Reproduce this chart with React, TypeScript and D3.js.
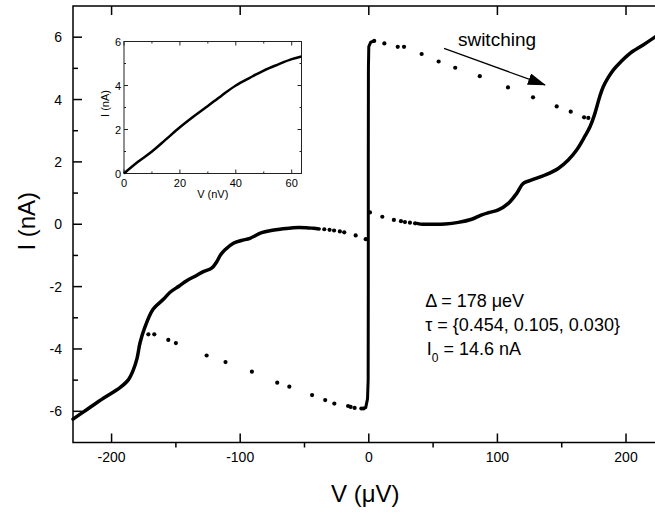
import React, { useMemo } from "react";
import * as d3 from "d3";

// resistive branch, negative bias (dense trace)
const leftV = [-230, -219.4, -206.4, -193.5, -187, -183.1, -180.2, -177.9, -174.1, -167.6, -159.5, -154.5, -147.4, -141.6, -134.3, -128.7, -122.2, -118.2, -115.2, -111.8, -105.3, -99.1, -92.4, -83.3, -75.9, -69, -58.8, -48.7, -43.1, -38.6];
const leftI = [-6.25, -5.95, -5.58, -5.24, -4.99, -4.67, -4.3, -3.81, -3.3, -2.72, -2.4, -2.18, -1.98, -1.81, -1.65, -1.52, -1.41, -1.2, -0.98, -0.82, -0.61, -0.52, -0.45, -0.27, -0.2, -0.16, -0.11, -0.11, -0.13, -0.15];
// sparse points near zero bias
const leftTailV = [-34.6, -30.5, -27, -22.5, -19.1, -10.2, -2.4];
const leftTailI = [-0.16, -0.18, -0.2, -0.23, -0.26, -0.36, -0.48];
const rightHeadV = [0.9, 10.5, 19.5, 25, 28.1, 32, 36];
const rightHeadI = [0.38, 0.24, 0.14, 0.1, 0.07, 0.05, 0.03];

// resistive branch, positive bias (dense trace)
const rightV = [38, 42, 48.9, 59.3, 69.6, 80, 87.8, 92.9, 100.7, 108.5, 115, 120.1, 126.7, 137.1, 147.3, 155.1, 161.6, 167, 172, 175, 177.3, 179.6, 182.3, 186.1, 190.2, 196.2, 203.1, 213.3, 223.4];
const rightI = [0.02, 0, 0, 0.01, 0.06, 0.16, 0.3, 0.37, 0.46, 0.67, 0.99, 1.31, 1.42, 1.58, 1.79, 2.06, 2.38, 2.75, 3.13, 3.45, 3.77, 4.1, 4.41, 4.7, 4.95, 5.22, 5.48, 5.75, 6.03];

// supercurrent branch
const superV = [-4.2, -2.4, -1, -0.5, -0.4, -0.4, -0.3, 0, 1.5, 3];
const superI = [-5.91, -5.88, -5.6, -5, -2, 2, 5, 5.7, 5.84, 5.86];

// switching points
const switchLowV = [-171.4, -166.8, -155.9, -150, -126.1, -111.4, -90.9, -71.2, -61.8, -44.1, -33.9, -26.8, -16.1, -14.1, -11, -5.8, -4.2];
const switchLowI = [-3.53, -3.53, -3.71, -3.81, -4.21, -4.42, -4.73, -5.08, -5.21, -5.48, -5.64, -5.75, -5.83, -5.86, -5.89, -5.91, -5.91];
const switchHighV = [4.2, 12.1, 22.5, 27.4, 41.1, 54.3, 67.2, 86.3, 108.2, 127.7, 146.1, 157, 167.4, 170.7];
const switchHighI = [5.88, 5.8, 5.69, 5.69, 5.46, 5.22, 5.02, 4.75, 4.39, 4.07, 3.78, 3.61, 3.43, 3.41];

// inset
const insetV = [0, 5, 10, 15, 20, 25, 30, 35, 40, 45, 50, 55, 60, 63.5];
const insetI = [0, 0.53, 1.0, 1.55, 2.1, 2.6, 3.07, 3.55, 4.0, 4.35, 4.68, 4.95, 5.2, 5.32];

const xMajor = [-200, -100, 0, 100, 200];
const xMinor = [-150, -50, 50, 150];
const yMajor = [-6, -4, -2, 0, 2, 4, 6];
const yMinor = [-5, -3, -1, 1, 3, 5];
const insetXMajor = [0, 20, 40, 60];
const insetXMinor = [10, 30, 50];
const insetYMajor = [0, 2, 4, 6];
const insetYMinor = [1, 3, 5];

const FONT = "'Liberation Sans', Arial, Helvetica, sans-serif";

const zip = (xs: number[], ys: number[]) => xs.map((v, i) => [v, ys[i]] as [number, number]);

const Inset = () => {
  const x = d3.scaleLinear().domain([0, 63.5]).range([124, 301.5]);
  const y = d3.scaleLinear().domain([0, 6]).range([173.5, 41.5]);
  const line = d3
    .line<[number, number]>()
    .x((d) => x(d[0]))
    .y((d) => y(d[1]))
    .curve(d3.curveCatmullRom);
  const [x0, x1] = x.range();
  const [y0, y1] = y.range();
  return (
    <g>
      <rect x={x0} y={y1} width={x1 - x0} height={y0 - y1} fill="white" stroke="#222" strokeWidth={1} />
      {insetXMajor.map((t) => (
        <g key={"ixM" + t}>
          <line x1={x(t)} x2={x(t)} y1={y0} y2={y0 - 4} stroke="#222" />
          <line x1={x(t)} x2={x(t)} y1={y1} y2={y1 + 4} stroke="#222" />
          <text x={x(t)} y={y0 + 13} textAnchor="middle" fontSize={11} fontFamily={FONT}>
            {t}
          </text>
        </g>
      ))}
      {insetXMinor.map((t) => (
        <g key={"ixm" + t}>
          <line x1={x(t)} x2={x(t)} y1={y0} y2={y0 - 2} stroke="#222" />
          <line x1={x(t)} x2={x(t)} y1={y1} y2={y1 + 2} stroke="#222" />
        </g>
      ))}
      {insetYMajor.map((t) => (
        <g key={"iyM" + t}>
          <line x1={x0} x2={x0 + 4} y1={y(t)} y2={y(t)} stroke="#222" />
          <line x1={x1} x2={x1 - 4} y1={y(t)} y2={y(t)} stroke="#222" />
          <text x={x0 - 3} y={y(t) + 4} textAnchor="end" fontSize={11} fontFamily={FONT}>
            {t}
          </text>
        </g>
      ))}
      {insetYMinor.map((t) => (
        <g key={"iym" + t}>
          <line x1={x0} x2={x0 + 2} y1={y(t)} y2={y(t)} stroke="#222" />
          <line x1={x1} x2={x1 - 2} y1={y(t)} y2={y(t)} stroke="#222" />
        </g>
      ))}
      <path d={line(zip(insetV, insetI)) || ""} fill="none" stroke="black" strokeWidth={2.5} />
      <text x={(x0 + x1) / 2} y={y0 + 24} textAnchor="middle" fontSize={11} fontFamily={FONT}>
        V (nV)
      </text>
      <text
        transform={`translate(${x0 - 15},${(y0 + y1) / 2 - 4}) rotate(-90)`}
        textAnchor="middle"
        fontSize={11}
        fontFamily={FONT}
      >
        I (nA)
      </text>
    </g>
  );
};

export default function App() {
  const width = 655;
  const height = 515;
  const x = useMemo(() => d3.scaleLinear().domain([-230, 230]).range([73, 664.6]), []);
  const y = useMemo(() => d3.scaleLinear().domain([-7, 7]).range([442.5, 6]), []);

  const line = d3
    .line<[number, number]>()
    .x((d) => x(d[0]))
    .y((d) => y(d[1]))
    .curve(d3.curveCatmullRom);

  const [xl, xr] = x.range();
  const [yb, yt] = y.range();

  const dots = [
    ...zip(leftTailV, leftTailI),
    ...zip(rightHeadV, rightHeadI),
    ...zip(switchLowV, switchLowI),
    ...zip(switchHighV, switchHighI),
  ];

  return (
    <svg width={width} height={height} style={{ position: "absolute", left: 0, top: 0, background: "white" }}>
      <rect x={0} y={0} width={width} height={height} fill="white" />

      {/* frame */}
      <rect x={xl} y={yt} width={xr - xl} height={yb - yt} fill="none" stroke="black" strokeWidth={1.5} />

      {/* x ticks */}
      {xMajor.map((t) => (
        <g key={"xM" + t}>
          <line x1={x(t)} x2={x(t)} y1={yb} y2={yb - 9} stroke="black" strokeWidth={1.5} />
          <line x1={x(t)} x2={x(t)} y1={yt} y2={yt + 9} stroke="black" strokeWidth={1.5} />
          <text x={x(t)} y={yb + 19} textAnchor="middle" fontSize={14} fontFamily={FONT}>
            {t}
          </text>
        </g>
      ))}
      {xMinor.map((t) => (
        <line key={"xm" + t} x1={x(t)} x2={x(t)} y1={yb} y2={yb + 5} stroke="black" strokeWidth={1.5} />
      ))}

      {/* y ticks */}
      {yMajor.map((t) => (
        <g key={"yM" + t}>
          <line x1={xl} x2={xl + 9} y1={y(t)} y2={y(t)} stroke="black" strokeWidth={1.5} />
          <text x={xl - 11} y={y(t) + 5} textAnchor="end" fontSize={14} fontFamily={FONT}>
            {t}
          </text>
        </g>
      ))}
      {yMinor.map((t) => (
        <line key={"ym" + t} x1={xl} x2={xl + 5} y1={y(t)} y2={y(t)} stroke="black" strokeWidth={1.5} />
      ))}

      {/* axis titles */}
      <text x={(x(-230) + x(220)) / 2 + 3} y={502} textAnchor="middle" fontSize={24} fontFamily={FONT}>
        V (μV)
      </text>
      <text transform={`translate(35,${y(0) - 3}) rotate(-90)`} textAnchor="middle" fontSize={24} fontFamily={FONT}>
        I (nA)
      </text>

      {/* data */}
      <path d={line(zip(leftV, leftI)) || ""} fill="none" stroke="black" strokeWidth={3.5} strokeLinejoin="round" strokeLinecap="round" />
      <path d={line(zip(rightV, rightI)) || ""} fill="none" stroke="black" strokeWidth={3.5} strokeLinejoin="round" strokeLinecap="round" />
      <path d={d3.line<[number, number]>().x((d) => x(d[0])).y((d) => y(d[1]))(zip(superV, superI)) || ""} fill="none" stroke="black" strokeWidth={3} strokeLinejoin="round" strokeLinecap="round" />
      {dots.map((d, i) => (
        <circle key={"d" + i} cx={x(d[0])} cy={y(d[1])} r={2.1} fill="black" />
      ))}

      {/* switching annotation */}
      <defs>
        <marker id="arrowHead" viewBox="0 0 18 12" refX={17} refY={6} markerWidth={18} markerHeight={12} markerUnits="userSpaceOnUse" orient="auto">
          <path d="M0,0 L18,6 L0,12 Z" fill="black" />
        </marker>
      </defs>
      <line x1={x(58.5)} y1={y(5.64)} x2={x(137)} y2={y(4.47)} stroke="black" strokeWidth={1.2} markerEnd="url(#arrowHead)" />
      <text x={x(69.3)} y={y(5.72)} fontSize={19} fontFamily={FONT}>
        switching
      </text>

      {/* fit parameters */}
      <text x={x(43.8)} y={307} fontSize={18} fontFamily={FONT}>
        Δ = 178 μeV
      </text>
      <text x={x(43.8)} y={331} fontSize={18} fontFamily={FONT}>
        τ = {"{"}0.454, 0.105, 0.030{"}"}
      </text>
      <text x={x(45)} y={355} fontSize={18} fontFamily={FONT}>
        I<tspan dy={7} fontSize={12}>0</tspan>
        <tspan dy={-7}> = 14.6 nA</tspan>
      </text>

      <Inset />
    </svg>
  );
}
